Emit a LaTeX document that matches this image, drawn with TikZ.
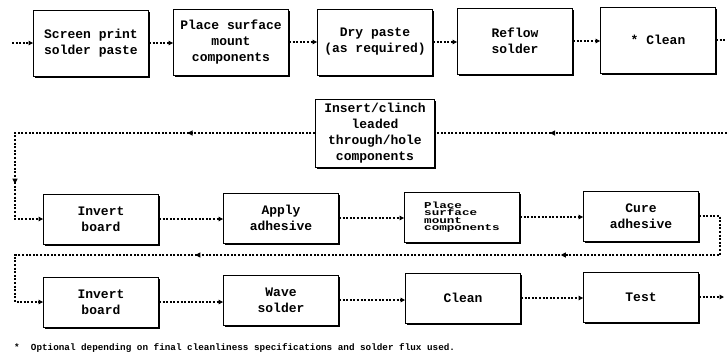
\documentclass[tikz,border=0pt]{standalone}
\usepackage{fontspec}
\setmonofont{Liberation Mono}
\newfontfamily\squeezefont[FakeStretch=1.4]{Liberation Mono}
\usetikzlibrary{arrows.meta,shadows,decorations.markings}
\tikzset{
  proc/.style={draw, line width=0.9pt, fill=white, minimum width=115pt,
    minimum height=50pt, inner sep=0pt, align=center,
    font=\fontsize{13}{16}\selectfont\ttfamily\bfseries,
    drop shadow={shadow xshift=1.8pt, shadow yshift=-1.8pt, fill=black, opacity=1}},
  tall/.style={minimum height=66pt},
  conn/.style={line width=1.1pt, dash pattern=on 2pt off 1.6pt},
  tip/.style={-{Triangle[length=4.5pt,width=4.5pt]}},
  onemid/.style={postaction={decorate}, decoration={markings,
    mark=at position #1 with {\arrow{Triangle[length=5pt,width=5pt]}}}},
  twomid/.style 2 args={postaction={decorate}, decoration={markings,
    mark=at position #1 with {\arrow{Triangle[length=5pt,width=5pt]}},
    mark=at position #2 with {\arrow{Triangle[length=5pt,width=5pt]}}}},
  note/.style={anchor=base west, inner sep=0pt, font=\fontsize{9.3}{11}\selectfont\ttfamily\bfseries}
}
\begin{document}
\begin{tikzpicture}[x=1pt,y=-1pt]
\fill[white] (0,0) rectangle (727,357);
\useasboundingbox (0,0) rectangle (727,357);
% row 1
\node[proc,tall] (s1) at (91,43) {Screen print\\solder paste};
\node[proc,tall] (s2) at (231,42) {Place surface\\mount\\components};
\node[proc,tall] (s3) at (375,42) {Dry paste\\(as required)};
\node[proc,tall] (s4) at (515,41) {Reflow\\solder};
\node[proc,tall] (s5) at (658,40) {* Clean};
% insert box
\node[proc,minimum width=119pt,minimum height=68pt] (ins) at (375,133) {Insert/clinch\\leaded\\through/hole\\components};
% row 3
\node[proc] (inv1) at (101,219) {Invert\\board};
\node[proc] (app) at (281,218) {Apply\\adhesive};
\node[proc,align=left,font=\fontsize{9}{7.5}\selectfont\squeezefont\bfseries] (plc) at (462,217) {Place\\surface\\mount\\components};
\node[proc] (cure) at (641,216) {Cure\\adhesive};
% row 4
\node[proc] (inv2) at (101,302) {Invert\\board};
\node[proc] (wave) at (281,300) {Wave\\solder};
\node[proc] (cln) at (463,298) {Clean};
\node[proc] (test) at (641,297) {Test};
% coordinates
\coordinate (in0) at (12,43);
\coordinate (out1) at (727,40);
\coordinate (r1) at (727,133);
\coordinate (la) at (15,133);
\coordinate (lb) at (15,219);
\coordinate (ra) at (720,216);
\coordinate (rb) at (720,255);
\coordinate (lc) at (15,255);
\coordinate (ld) at (15,302);
\coordinate (out2) at (724,297);
% row 1 connectors
\draw[conn,tip] (in0) -- (s1.west);
\draw[conn,tip] (s1.east) -- (s2.west |- s1.east);
\draw[conn,tip] (s2.east) -- (s3.west |- s2.east);
\draw[conn,tip] (s3.east) -- (s4.west |- s3.east);
\draw[conn,tip] (s4.east) -- (s5.west |- s4.east);
\draw[conn] (s5.east) -- (out1);
% loop to insert
\draw[conn,onemid=0.606] (r1) -- (ins.east);
\draw[conn,tip,twomid={0.308}{0.847}] (ins.west) -- (la) -- (lb) -- (inv1.west);
% row 3
\draw[conn,tip] (inv1.east) -- (app.west |- inv1.east);
\draw[conn,tip] (app.east) -- (plc.west |- app.east);
\draw[conn,tip] (plc.east) -- (cure.west |- plc.east);
\draw[conn,tip,twomid={0.261}{0.696}] (cure.east) -- (ra) -- (rb) -- (lc) -- (ld) -- (inv2.west);
% row 4
\draw[conn,tip] (inv2.east) -- (wave.west |- inv2.east);
\draw[conn,tip] (wave.east) -- (cln.west |- wave.east);
\draw[conn,tip] (cln.east) -- (test.west |- cln.east);
\draw[conn,tip] (test.east) -- (out2);
% footnote
\node[note] (fn) at (14,350) {*\ \ Optional depending on final cleanliness specifications and solder flux used.};
\end{tikzpicture}
\end{document}
